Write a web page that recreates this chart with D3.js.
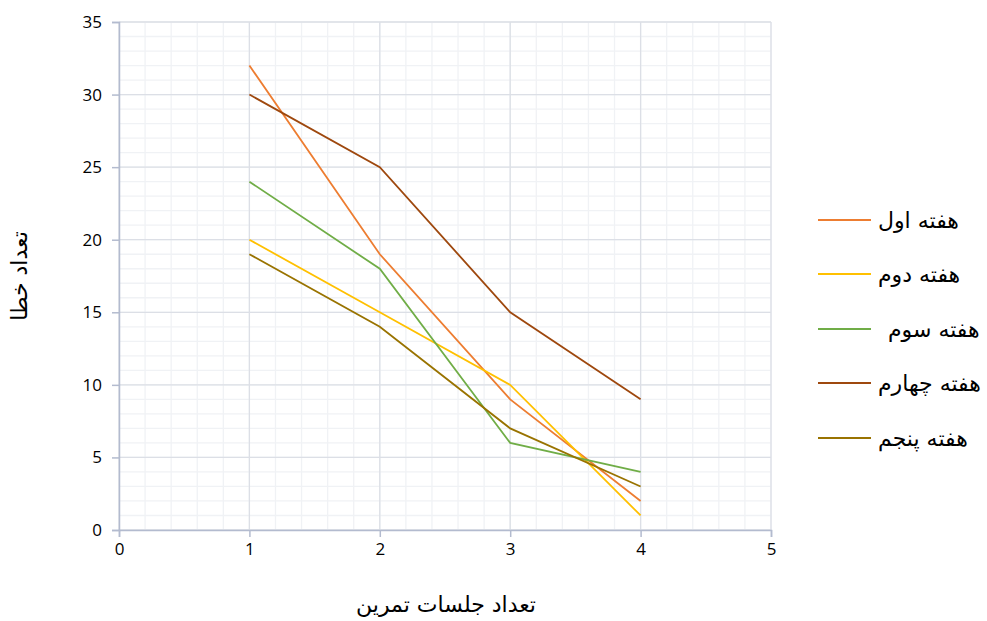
<!DOCTYPE html>
<html><head><meta charset="utf-8">
<script src="https://cdn.jsdelivr.net/npm/d3@7"></script>
<style>body{margin:0;background:#fff}</style>
</head><body><svg id="c" width="987" height="621"></svg>
<script>
const sessions = [1, 2, 3, 4];
const seriesNames = ["هفته اول", "هفته دوم", "هفته سوم", "هفته چهارم", "هفته پنجم"];
const week1 = [32, 19, 9, 2];
const week2 = [20, 15, 10, 1];
const week3 = [24, 18, 6, 4];
const week4 = [30, 25, 15, 9];
const week5 = [19, 14, 7, 3];
const colors = ["#ED7D31", "#FFC000", "#70AD47", "#9E480E", "#997300"];
const xTicks = [0, 1, 2, 3, 4, 5];
const yTicks = [0, 5, 10, 15, 20, 25, 30, 35];
const xTitle = "تعداد جلسات تمرین";
const yTitle = "تعداد خطا";

const series = [week1, week2, week3, week4, week5];
const svg = d3.select("#c");
const x = d3.scaleLinear().domain([0, 5]).range([119, 771]);
const y = d3.scaleLinear().domain([0, 35]).range([530, 22]);

const g = svg.append("g");
// minor grid
d3.range(0, 5.0001, 0.2).forEach(v => {
  g.append("line").attr("x1", x(v)).attr("x2", x(v)).attr("y1", y(0)).attr("y2", y(35))
    .attr("stroke", "#f0f2f5").attr("stroke-width", 1.3);
});
d3.range(0, 35.0001, 1).forEach(v => {
  g.append("line").attr("x1", x(0)).attr("x2", x(5)).attr("y1", y(v)).attr("y2", y(v))
    .attr("stroke", "#f0f2f5").attr("stroke-width", 1.3);
});
// major grid
xTicks.forEach(v => {
  g.append("line").attr("x1", x(v)).attr("x2", x(v)).attr("y1", y(0)).attr("y2", y(35))
    .attr("stroke", "#dcdfe6").attr("stroke-width", 1.3);
});
yTicks.forEach(v => {
  g.append("line").attr("x1", x(0)).attr("x2", x(5)).attr("y1", y(v)).attr("y2", y(v))
    .attr("stroke", "#dcdfe6").attr("stroke-width", 1.3);
});

// axes
const axisColor = "#b3bbcf";
const xa = svg.append("g").attr("transform", `translate(0,${y(0)})`)
  .call(d3.axisBottom(x).tickValues(xTicks).tickSize(7).tickPadding(6).tickFormat(d3.format("d")));
const ya = svg.append("g").attr("transform", `translate(${x(0)},0)`)
  .call(d3.axisLeft(y).tickValues(yTicks).tickSize(7).tickPadding(10).tickFormat(d3.format("d")));
[xa, ya].forEach(a => {
  a.select(".domain").attr("stroke", axisColor).attr("stroke-width", 1.5);
  a.selectAll(".tick line").attr("stroke", axisColor).attr("stroke-width", 1.5);
  a.selectAll(".tick text").attr("fill", "#000").attr("font-size", 17)
    .attr("font-family", "'Open Sans', 'Liberation Sans', sans-serif");
});

// lines
const line = d3.line().x((d, i) => x(sessions[i])).y(d => y(d));
series.forEach((s, k) => {
  svg.append("path").datum(s).attr("d", line).attr("fill", "none")
    .attr("stroke", colors[k]).attr("stroke-width", 1.8);
});

// legend
const legY = [220, 274, 329, 383, 438];
seriesNames.forEach((n, k) => {
  svg.append("line").attr("x1", 818).attr("x2", 871).attr("y1", legY[k]).attr("y2", legY[k])
    .attr("stroke", colors[k]).attr("stroke-width", 1.8);
  svg.append("text").attr("x", k === 2 ? 888 : 878).attr("y", legY[k] + 8)
    .attr("font-family", "'DejaVu Serif', 'DejaVu Sans', serif").attr("font-size", 22)
    .attr("fill", "#000").text(n);
});

// titles
svg.append("text").attr("x", 446).attr("y", 612).attr("text-anchor", "middle")
  .attr("font-family", "'DejaVu Sans', sans-serif").attr("font-size", 22).text(xTitle);
svg.append("text").attr("transform", "translate(27,276) rotate(-90)").attr("text-anchor", "middle")
  .attr("font-family", "'DejaVu Sans', sans-serif").attr("font-size", 22).text(yTitle);
</script></body></html>
